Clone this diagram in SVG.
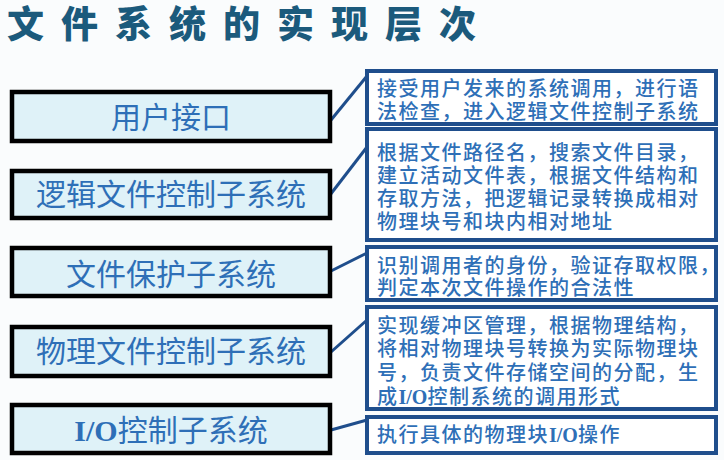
<svg xmlns="http://www.w3.org/2000/svg" width="724" height="460" viewBox="0 0 724 460">
<style>
.lb{fill:#dff2f8;stroke:#000;stroke-width:4.5}
.rb{fill:#fff;stroke:#1f4e8c;stroke-width:4}
.lt{font-family:"Noto Sans CJK SC","Noto Sans",sans-serif;font-size:30px;fill:#2e6fb7;text-anchor:middle}
.rt{font-family:"Liberation Sans","Noto Sans CJK SC",sans-serif;font-size:20px;font-weight:500;letter-spacing:1.5px;fill:#2e6fb7}
.io{font-family:"Liberation Serif",serif;font-weight:bold;letter-spacing:0}
.cn{stroke:#1f4e8c;stroke-width:3;fill:none}
</style>
<rect width="724" height="460" fill="#fafcfd"/>
<text x="7" y="38" font-family="Liberation Sans,Noto Sans CJK SC,sans-serif" font-weight="900" font-size="37" letter-spacing="17" fill="#1b5a7c">文件系统的实现层次</text>
<g id="connectors">
<line class="cn" x1="331" y1="120" x2="367" y2="76"/>
<line class="cn" x1="330" y1="195" x2="367" y2="147"/>
<line class="cn" x1="331" y1="271" x2="367" y2="253"/>
<line class="cn" x1="331" y1="352" x2="367" y2="320"/>
<line class="cn" x1="331" y1="430" x2="367" y2="420"/>
</g>
<g id="n1"><rect class="lb" x="12" y="92" width="318" height="49"/><text class="lt" x="171" y="128">用户接口</text></g>
<g id="n2"><rect class="lb" x="12" y="171" width="318" height="47"/><text class="lt" x="171" y="205">逻辑文件控制子系统</text></g>
<g id="n3"><rect class="lb" x="12" y="248" width="318" height="48"/><text class="lt" x="171" y="285">文件保护子系统</text></g>
<g id="n4"><rect class="lb" x="12" y="327" width="318" height="49"/><text class="lt" x="171" y="362">物理文件控制子系统</text></g>
<g id="n5"><rect class="lb" x="12" y="405" width="318" height="48"/><text class="lt" x="171" y="441"><tspan class="io">I/O</tspan>控制子系统</text></g>
<g id="d1"><rect class="rb" x="367" y="71" width="349" height="53"/>
<text class="rt" x="377" y="96">接受用户发来的系统调用，进行语</text>
<text class="rt" x="377" y="119">法检查，进入逻辑文件控制子系统</text></g>
<g id="d2"><rect class="rb" x="367" y="129" width="349" height="111"/>
<text class="rt" x="377" y="160">根据文件路径名，搜索文件目录，</text>
<text class="rt" x="377" y="183">建立活动文件表，根据文件结构和</text>
<text class="rt" x="377" y="206">存取方法，把逻辑记录转换成相对</text>
<text class="rt" x="377" y="229">物理块号和块内相对地址</text></g>
<g id="d3"><rect class="rb" x="367" y="247" width="349" height="53"/>
<text class="rt" x="377" y="273">识别调用者的身份，验证存取权限，</text>
<text class="rt" x="377" y="295">判定本次文件操作的合法性</text></g>
<g id="d4"><rect class="rb" x="367" y="307" width="349" height="102"/>
<text class="rt" x="377" y="333">实现缓冲区管理，根据物理结构，</text>
<text class="rt" x="377" y="356">将相对物理块号转换为实际物理块</text>
<text class="rt" x="377" y="380">号，负责文件存储空间的分配，生</text>
<text class="rt" x="377" y="404">成<tspan class="io">I/O</tspan>控制系统的调用形式</text></g>
<g id="d5"><rect class="rb" x="367" y="417" width="349" height="36"/>
<text class="rt" x="377" y="442">执行具体的物理块<tspan class="io">I/O</tspan>操作</text></g>
</svg>
